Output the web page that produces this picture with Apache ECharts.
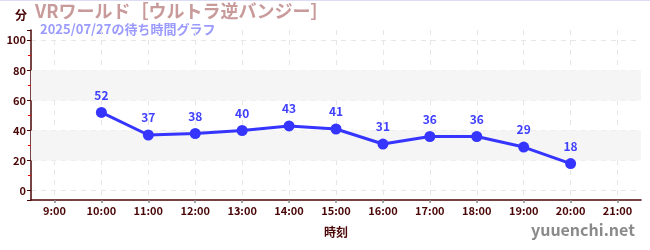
<!DOCTYPE html>
<html><head><meta charset="utf-8">
<script src="https://cdn.jsdelivr.net/npm/echarts@6/dist/echarts.min.js"></script>
<style>html,body{margin:0;padding:0;background:#fff;}#c{width:650px;height:250px;}</style>
</head><body><div id="c"></div>
<script>
const categories = ['9:00','10:00','11:00','12:00','13:00','14:00','15:00','16:00','17:00','18:00','19:00','20:00','21:00'];
const waitTimes = [null,52,37,38,40,43,41,31,36,36,29,18,null];
const bandRanges = [[20,40],[60,80]];
const titleText = 'VRワールド［ウルトラ逆バンジー］';
const subTitleText = '2025/07/27の待ち時間グラフ';
const yUnit = '分';
const xName = '時刻';
const siteName = 'yuuenchi.net';

const FONT = '"Noto Sans CJK JP","Noto Sans",sans-serif';
const axisColor = '#4a0606';
const chart = echarts.init(document.getElementById('c'), null, {renderer:'canvas'});
chart.setOption({
  animation:false,
  grid:{left:31,right:9,top:30,bottom:50},
  graphic:[
    {type:'rect',shape:{x:0,y:0,width:650,height:1},style:{fill:'#dcdcf4'}},
    {type:'text',left:15,top:9,style:{text:yUnit,font:'bold 12px '+FONT,fill:axisColor}},
    {type:'text',left:35,top:2,style:{text:titleText,font:'bold 18px '+FONT,fill:'#c89a9a'}},
    {type:'text',left:40,top:23,style:{text:subTitleText,font:'bold 13px '+FONT,fill:'#9a9aff'}},
    {type:'text',left:531,top:222,style:{text:siteName,font:'bold 16px '+FONT,fill:'#8a8a8a'}}
  ],
  xAxis:[{
    type:'category',data:categories,boundaryGap:true,
    name:xName,nameLocation:'middle',nameGap:26,
    nameTextStyle:{color:axisColor,fontWeight:'bold',fontSize:12,fontFamily:FONT},
    axisLine:{onZero:false,lineStyle:{color:axisColor,width:1.5}},
    axisTick:{show:true,alignWithLabel:true,length:3,lineStyle:{color:'#888',width:1.5}},
    axisLabel:{color:axisColor,fontWeight:'bold',fontSize:11,fontFamily:FONT,margin:5},
    splitLine:{show:false},
    z:2
  },{
    type:'value',min:-0.5,max:categories.length-0.5,splitNumber:categories.length,
    position:'bottom',
    axisLine:{show:false,onZero:false},
    axisLabel:{show:false},
    axisTick:{show:false},
    splitLine:{show:true,showMinLine:false,showMaxLine:false,lineStyle:{color:'#e6e6e6',type:[5,5]}}
  }],
  yAxis:{
    type:'value',min:-6.2,max:106.8,splitNumber:5,
    axisLine:{show:true,onZero:false,lineStyle:{color:axisColor,width:1.5}},
    axisTick:{show:true,length:4,inside:false,lineStyle:{color:axisColor}},
    minorTick:{show:true,splitNumber:2,length:3,lineStyle:{color:'#e00000'}},
    axisLabel:{color:axisColor,fontWeight:'bold',fontSize:11,fontFamily:FONT,margin:5,
      showMinLabel:false,showMaxLabel:false,
      formatter:v=> (Math.abs(v%20)<1e-6 && v>=0 && v<=100) ? String(v) : ''},
    splitLine:{show:true,showMinLine:false,showMaxLine:false,lineStyle:{color:'#e6e6e6',type:[5,5]}}
  },
  series:[{
    type:'line',data:waitTimes,connectNulls:false,xAxisIndex:0,
    symbol:'circle',symbolSize:11,
    lineStyle:{color:'#3535ff',width:3},
    itemStyle:{color:'#3535ff'},
    label:{show:true,position:'top',distance:6,color:'#3f3fff',fontWeight:'bold',fontSize:12,fontFamily:FONT},
    markArea:{silent:true,itemStyle:{color:'#f5f5f5'},
      data:bandRanges.map(r=>[{yAxis:r[0]},{yAxis:r[1]}])},
    z:3
  }]
});
</script></body></html>
